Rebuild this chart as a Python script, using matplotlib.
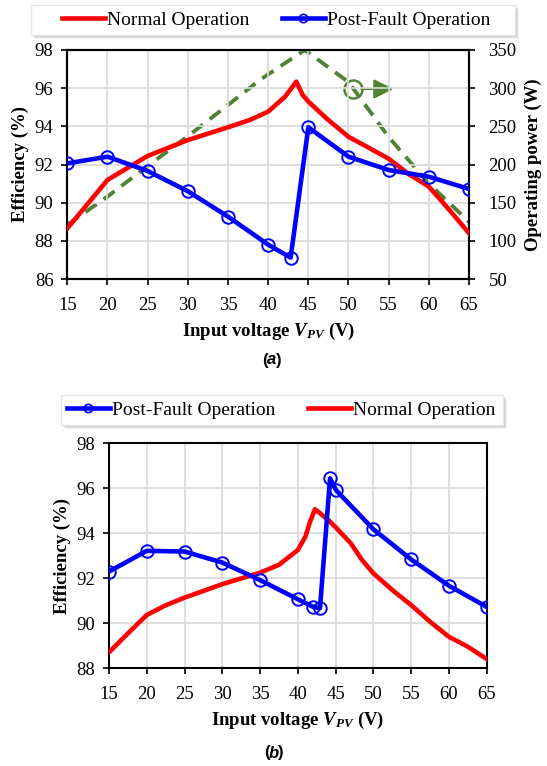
import numpy as np
import matplotlib
matplotlib.use('Agg')
from matplotlib import pyplot as plt
from matplotlib.patches import Rectangle
from matplotlib.lines import Line2D

plt.rcParams['font.family'] = ['Liberation Serif', 'DejaVu Serif']
plt.rcParams['mathtext.fontset'] = 'custom'
plt.rcParams['mathtext.rm'] = 'Liberation Serif'
plt.rcParams['mathtext.it'] = 'Liberation Serif:italic'
plt.rcParams['mathtext.bf'] = 'Liberation Serif:bold'
plt.rcParams['mathtext.bfit'] = 'Liberation Serif:bold:italic'

# ---- (a) data ----
a_norm_v = [15, 20, 25, 30, 35, 37.7, 40, 42.1, 43.5, 44.3, 45, 47.3, 50, 52.3, 55, 57.5, 60, 62.6, 65]
a_norm_e = [88.65, 91.19, 92.45, 93.28, 93.95, 94.33, 94.77, 95.55, 96.34, 95.64, 95.3, 94.4, 93.45, 92.93, 92.3, 91.5, 90.84, 89.6, 88.4]
a_fault_v = [15, 20, 25, 30, 35, 40, 42.8, 45, 50, 55, 60, 65]
a_fault_e = [92.06, 92.41, 91.66, 90.6, 89.27, 87.8, 87.12, 93.95, 92.41, 91.71, 91.36, 90.72]
a_pow_v = [15, 20, 25, 30, 35, 39, 44.56, 50, 55, 60, 65]
a_pow_w = [121, 158, 198, 237, 278, 311, 350, 308, 236, 175, 125]

# ---- (b) data ----
b_fault_v = [15, 20, 25, 30, 35, 40, 41.97, 42.93, 44.26, 45.05, 50, 55, 60, 65]
b_fault_e = [92.3, 93.22, 93.19, 92.7, 91.92, 91.07, 90.74, 90.67, 96.44, 95.92, 94.18, 92.84, 91.67, 90.73]
b_norm_v = [15, 17.5, 20, 22.5, 25, 30, 35, 37.5, 40, 41, 41.6, 42.27, 44, 45, 47, 48.5, 50, 52.5, 55, 57.5, 60, 62.5, 65]
b_norm_e = [88.71, 89.55, 90.37, 90.8, 91.14, 91.74, 92.25, 92.6, 93.26, 93.85, 94.5, 95.07, 94.6, 94.27, 93.56, 92.81, 92.22, 91.48, 90.81, 90.07, 89.4, 88.96, 88.41]

xticks = list(range(15, 70, 5))
RED = '#ff0000'
BLUE = '#0000ff'
GREEN = '#548235'
GRID = '#d9d9d9'
W, H = 547, 766

fig = plt.figure(figsize=(W / 100, H / 100), dpi=100)

def box(x0, y0, x1, y1):
    # pixel box (from top-left) -> figure fraction rect
    return [x0 / W, 1 - y1 / H, (x1 - x0) / W, (y1 - y0) / H]

def style(ax, ylo, yhi):
    ax.set_xlim(15, 65)
    ax.set_ylim(ylo, yhi)
    ax.set_xticks(xticks)
    ax.set_yticks(range(ylo, yhi + 1, 2))
    ax.grid(True, color=GRID, lw=1.2)
    ax.set_axisbelow(True)
    ax.tick_params(labelsize=13.5, direction='out', length=4, width=1.2)
    ax.tick_params(axis='x', pad=9)
    ax.tick_params(axis='y', pad=6)
    for s in ax.spines.values():
        s.set_linewidth(1.5)
    ax.set_xlabel(r'Input voltage $\mathbfit{V}_{\mathbfit{PV}}$ (V)', fontsize=13.5,
                  fontweight='bold', labelpad=5)
    ax.set_ylabel('Efficiency (%)', fontsize=13.5, fontweight='bold', labelpad=4)

def legend_frame(x0, y0, x1, y1):
    for k, a in [(4, 0.10), (3, 0.15), (2, 0.2)]:
        fig.patches.append(Rectangle(((x0 + k) / W, 1 - (y1 + k) / H),
                                     (x1 - x0) / W, (y1 - y0) / H, transform=fig.transFigure,
                                     facecolor='#808080', edgecolor='none', alpha=a, zorder=0))
    fig.patches.append(Rectangle((x0 / W, 1 - y1 / H), (x1 - x0) / W, (y1 - y0) / H,
                                 transform=fig.transFigure, facecolor='white',
                                 edgecolor='#e6e6e6', lw=1, zorder=1))

def panel_tag(x, y, letter):
    kw = dict(ha='center', va='center', fontsize=12, fontweight='bold', family='Liberation Sans')
    fig.text((x - 7) / W, 1 - y / H, '(', **kw)
    fig.text(x / W, 1 - y / H, letter, style='italic', **kw)
    fig.text((x + 7) / W, 1 - y / H, ')', **kw)

leg_kw = dict(loc='center', ncol=2, fontsize=14, frameon=False, handlelength=2.2,
              handletextpad=0.1, columnspacing=1.7, borderpad=0.2)
h_norm = Line2D([], [], color=RED, lw=3.3, label='Normal Operation')
h_fault = Line2D([], [], color=BLUE, lw=3.3, marker='o', ms=6, mfc='none', mew=1.2,
                 label='Post-Fault Operation')

# ---- top chart ----
ax1 = fig.add_axes(box(67.3, 50, 469, 279))
style(ax1, 86, 98)
ax2 = ax1.twinx()
ax2.set_ylim(50, 350)
ax2.set_yticks(range(50, 351, 50))
ax2.tick_params(labelsize=13.5, direction='out', length=4, width=1.2, pad=10)
for s in ax2.spines.values():
    s.set_linewidth(1.5)
ax2.set_ylabel('Operating power (W)', fontsize=13.5, fontweight='bold', labelpad=6)
ax2.plot(a_pow_v, a_pow_w, color=GREEN, lw=2.8, ls=(0, (3.5, 2.2)), zorder=1)
ax2.plot([50.5], [299], marker='o', ms=13, mfc='none', mec=GREEN, mew=1.8)
ax2.annotate('', xy=(55.6, 299), xytext=(51.6, 299),
             arrowprops=dict(arrowstyle='-|>,head_length=0.6,head_width=0.3', color=GREEN,
                             lw=1.6, mutation_scale=20, shrinkA=0, shrinkB=0))
ax1.set_zorder(ax2.get_zorder() + 1)
ax1.patch.set_visible(False)
ax1.plot(a_norm_v, a_norm_e, color=RED, lw=3.3, zorder=3)
ax1.plot(a_fault_v, a_fault_e, color=BLUE, lw=3.3, marker='o', ms=9, mfc='none',
         mew=1.4, zorder=4)
legend_frame(31, 5, 515, 35)
fig.legend(handles=[h_norm, h_fault], bbox_to_anchor=(276 / W, 1 - 20 / H), **leg_kw)
panel_tag(272, 360, 'a')

# ---- bottom chart ----
ax3 = fig.add_axes(box(109, 443.3, 486.7, 668.3))
style(ax3, 88, 98)
ax3.plot(b_fault_v, b_fault_e, color=BLUE, lw=3.3, marker='o', ms=9, mfc='none',
         mew=1.4, zorder=4)
ax3.plot(b_norm_v, b_norm_e, color=RED, lw=3.3, zorder=3)
legend_frame(61, 395, 503, 425)
fig.legend(handles=[h_fault, h_norm], bbox_to_anchor=(281 / W, 1 - 410 / H), **leg_kw)
panel_tag(274, 753, 'b')

fig.savefig('out.png', dpi=100)
